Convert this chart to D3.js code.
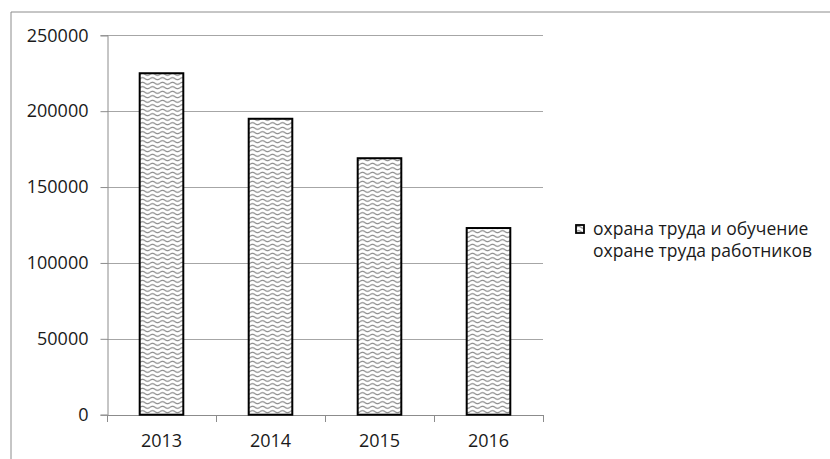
<!DOCTYPE html>
<html>
<head>
<meta charset="utf-8">
<script src="https://cdn.jsdelivr.net/npm/d3@7"></script>
<style>
  body { margin: 0; background: #fff; }
  text { font-family: "Open Sans", sans-serif; fill: #1a1a1a; }
</style>
</head>
<body>
<script>
// Data
const years = ["2013", "2014", "2015", "2016"];
const values = [225000, 195000, 169000, 123000];
const yTicks = [0, 50000, 100000, 150000, 200000, 250000];
const seriesName = ["охрана труда и обучение", "охране труда работников"];

const W = 830, H = 459;
const plot = { left: 107, right: 543, top: 35.3, bottom: 414.7 };

const svg = d3.select("body").append("svg")
  .attr("width", W).attr("height", H);

// Wavy fill pattern
const defs = svg.append("defs");
const pat = defs.append("pattern")
  .attr("id", "wave")
  .attr("patternUnits", "userSpaceOnUse")
  .attr("width", 10).attr("height", 4.5);
pat.append("rect").attr("width", 10).attr("height", 4.5).attr("fill", "#fff");
pat.append("path")
  .attr("d", "M0,2.2 Q2.5,0.2 5,2.2 T10,2.2")
  .attr("fill", "none")
  .attr("stroke", "#808080")
  .attr("stroke-width", 1);

// Outer chart frame (cropped)
svg.append("path")
  .attr("d", `M11,${H} L11,12 L${W},12`)
  .attr("fill", "none").attr("stroke", "#8c8c8c").attr("stroke-width", 1);

// Scales
const x = d3.scaleBand()
  .domain(years)
  .range([plot.left, plot.right])
  .paddingInner(0.6).paddingOuter(0.3);

const y = d3.scaleLinear()
  .domain([0, 250000])
  .range([plot.bottom, plot.top]);

// Gridlines
svg.append("g")
  .selectAll("line")
  .data(yTicks.filter(d => d > 0))
  .join("line")
  .attr("x1", plot.left).attr("x2", plot.right)
  .attr("y1", d => Math.round(y(d)) + 0.5).attr("y2", d => Math.round(y(d)) + 0.5)
  .attr("stroke", "#a6a6a6");

// Y axis
const yAxis = svg.append("g")
  .attr("transform", `translate(${plot.left + 0.5},0)`)
  .call(d3.axisLeft(y).tickValues(yTicks).tickSize(7).tickPadding(12).tickFormat(d3.format("d")));
yAxis.select(".domain").attr("stroke", "#8c8c8c");
yAxis.selectAll(".tick line").attr("stroke", "#8c8c8c");
yAxis.selectAll("text")
  .style("font-size", "18px")
  .style("font-family", "'Open Sans', sans-serif")
  .attr("fill", "#1a1a1a");

// X axis (ticks at category boundaries)
const step = x.step();
const bounds = d3.range(years.length + 1).map(i => plot.left + i * step);
const xg = svg.append("g");
xg.append("line")
  .attr("x1", plot.left).attr("x2", plot.right)
  .attr("y1", Math.round(plot.bottom) + 0.5).attr("y2", Math.round(plot.bottom) + 0.5)
  .attr("stroke", "#8c8c8c");
xg.selectAll(".xt")
  .data(bounds)
  .join("line")
  .attr("class", "xt")
  .attr("x1", d => Math.round(d) + 0.5).attr("x2", d => Math.round(d) + 0.5)
  .attr("y1", Math.round(plot.bottom)).attr("y2", Math.round(plot.bottom) + 7)
  .attr("stroke", "#8c8c8c");
xg.selectAll(".xl")
  .data(years)
  .join("text")
  .attr("class", "xl")
  .attr("x", d => x(d) + x.bandwidth() / 2)
  .attr("y", 447)
  .attr("text-anchor", "middle")
  .style("font-size", "18px")
  .text(d => d);

// Bars
svg.append("g")
  .selectAll("rect")
  .data(years.map((d, i) => ({ year: d, value: values[i] })))
  .join("rect")
  .attr("x", d => x(d.year))
  .attr("y", d => y(d.value))
  .attr("width", x.bandwidth())
  .attr("height", d => y(0) - y(d.value))
  .attr("fill", "url(#wave)")
  .attr("stroke", "#000")
  .attr("stroke-width", 2);

// Legend
const lg = svg.append("g").attr("transform", "translate(576,225)");
lg.append("rect")
  .attr("width", 8).attr("height", 8)
  .attr("fill", "url(#wave)")
  .attr("stroke", "#000").attr("stroke-width", 1.8);
lg.selectAll("text")
  .data(seriesName)
  .join("text")
  .attr("x", 17)
  .attr("y", (d, i) => 10 + i * 22)
  .style("font-size", "17.5px")
  .text(d => d);
</script>
</body>
</html>
